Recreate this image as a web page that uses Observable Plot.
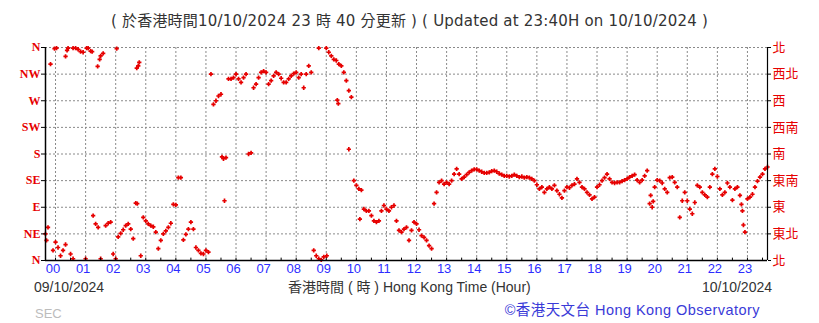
<!DOCTYPE html>
<html><head><meta charset="utf-8">
<script src="https://cdn.jsdelivr.net/npm/d3@7"></script>
<script src="https://cdn.jsdelivr.net/npm/@observablehq/plot@0.6"></script>
<style>
body{margin:0;background:#fff;}
#wrap{position:relative;width:819px;height:323px;overflow:hidden;font-family:"Liberation Sans",Arial,sans-serif;}
.t{position:absolute;white-space:nowrap;line-height:1;}
</style></head><body><div id="wrap"></div>
<script>
// minutes from 00:00 of 10/10/2024; first reading at 23:40 of 09/10/2024
const startMin = -20;
const stepMin = 5;
// wind direction (degrees) every 5 minutes
const dirDeg = [
  45,56,332,17,                                   // 23:40-23:55
  31,22,8,17,27,359,11,3,359,357,353,352,         // 00
  3,359,354,76,62,56,346,350,59,63,65,11,         // 01
  3,40,46,52,59,62,53,37,97,329,8,73,             // 02
  67,62,59,57,48,20,34,45,50,56,63,95,            // 03
  94,140,140,35,44,53,65,53,22,17,12,11,          // 04
  17,14,315,264,270,278,281,172,174,307,307,309,  // 05
  315,307,301,309,315,180,182,292,298,309,318,320,// 06
  318,298,304,312,318,315,308,301,301,307,312,316,// 07
  318,309,315,292,315,329,318,17,8,3,1,6,         // 08
  359,352,346,340,338,332,329,318,304,287,276,135,// 09
  127,121,119,87,84,84,76,67,65,67,84,93,         // 10
  87,84,90,93,67,51,48,53,56,34,51,65,            // 11
  62,52,42,39,34,25,20,96,115,132,135,129,        // 12
  132,129,135,146,155,146,138,141,145,149,152,154,// 13
  154,152,150,148,148,149,151,152,150,147,145,143,// 14
  143,142,143,145,143,141,142,140,141,140,138,135,// 15
  128,121,124,115,121,124,121,127,118,112,106,118,// 16
  124,123,127,129,138,132,124,121,115,111,104,107,// 17
  124,128,135,140,146,138,132,131,132,132,134,136,// 18
  138,141,143,145,136,132,136,143,152,96,90,124,  // 19
  136,135,131,121,115,140,141,132,124,73,101,115, // 20
  101,87,79,98,127,124,115,111,107,124,146,155,   // 21
  142,121,111,115,131,124,102,121,124,110,84,48,  // 22
  104,107,112,124,134,141,146,155,158             // 23:00-23:40
];
// additional scattered readings (minutes, degrees)
const extraMin = [-18,-2,2,20,23,35,62,73,84,88,90,122,162,163,167,332,337,525,541,562,564,585,607,1187,1192,1368,1372];
const extraDeg = [34,358,359,345,355,359,359,353,328,340,3,358,325,96,335,175,101,359,8,271,265,188,70,110,100,95,60];

const hourTicks = d3.range(0, 24);
const halfHourTicks = d3.range(-0.5, 23.6, 0.5).filter(h => h > -1/3);
const dirTicks = [0, 45, 90, 135, 180, 225, 270, 315, 360];
const dirLabelsEn = ["N", "NE", "E", "SE", "S", "SW", "W", "NW", "N"];
const dirLabelsZh = ["北", "東北", "東", "東南", "南", "西南", "西", "西北", "北"];

const readings = dirDeg.map((d, i) => ({h: (startMin + i * stepMin) / 60, d}))
  .concat(extraMin.map((m, i) => ({h: m / 60, d: extraDeg[i]})));

const red = "#e60000";
const xMin = startMin / 60, xMax = (startMin + (dirDeg.length - 1) * stepMin) / 60;

const chart = Plot.plot({
  width: 819, height: 323,
  marginLeft: 45, marginRight: 52, marginTop: 47, marginBottom: 63,
  style: {background: "transparent", overflow: "visible"},
  x: {domain: [xMin, xMax]},
  y: {domain: [0, 360]},
  marks: [
    Plot.ruleX(hourTicks, {stroke: "#8a8a8a", strokeDasharray: "2,2", strokeWidth: 1}),
    Plot.ruleY(dirTicks.slice(1), {stroke: "#8a8a8a", strokeDasharray: "2,2", strokeWidth: 1}),
    Plot.dot(readings, {x: "h", y: "d", symbol: "plus", r: 1.5, stroke: red, strokeWidth: 1.7}),
    Plot.ruleX(halfHourTicks, {x: d => d, y1: 0, y2: 4, stroke: "#000"}),
    Plot.ruleX([xMin], {stroke: "#000", strokeWidth: 1.5}),
    Plot.ruleX([xMax], {stroke: "#000", strokeWidth: 1.2}),
    Plot.ruleY([0], {stroke: "#000", strokeWidth: 1.5}),
    Plot.axisX(hourTicks, {anchor: "bottom", tickSize: 0, tickPadding: 3, dx: -2.5,
      tickFormat: d => String(d).padStart(2, "0"), fill: "#2d2dff", fontSize: 13,
      fontFamily: "Liberation Sans, Arial, sans-serif", label: null}),
    Plot.axisY(dirTicks, {anchor: "left", tickSize: 4, tickPadding: 1, stroke: "#000",
      fill: red, fontSize: 12, fontWeight: "bold", fontFamily: "Liberation Serif, serif",
      tickFormat: d => dirLabelsEn[dirTicks.indexOf(d)], label: null}),
    Plot.axisY(dirTicks, {anchor: "right", tickSize: 3, tickPadding: 2, stroke: "#000",
      fill: red, fontSize: 13, fontFamily: "Noto Sans CJK TC, sans-serif",
      tickFormat: d => dirLabelsZh[dirTicks.indexOf(d)], label: null})
  ]
});

const wrap = document.getElementById("wrap");
wrap.appendChild(chart);
chart.style.position = "absolute";
chart.style.left = "0px";
chart.style.top = "0px";

function addText(txt, css) {
  const el = document.createElement("div");
  el.className = "t";
  el.textContent = txt;
  Object.assign(el.style, css);
  wrap.appendChild(el);
  return el;
}
const mixFont = "'Liberation Sans', 'Noto Sans CJK TC', sans-serif";
addText("( 於香港時間10/10/2024 23 時 40 分更新 ) ( Updated at 23:40H on 10/10/2024 )",
  {left: "0px", width: "819px", textAlign: "center", top: "14px", fontSize: "15px", letterSpacing: "0.2px",
   color: "#333", fontFamily: "'DejaVu Sans', 'Noto Sans CJK TC', sans-serif"});
addText("09/10/2024", {left: "34px", top: "280px", fontSize: "14px", color: "#333"});
addText("香港時間 ( 時 ) Hong Kong Time (Hour)", {left: "288px", top: "280px", fontSize: "14px", color: "#333", fontFamily: mixFont});
addText("10/10/2024", {right: "47px", top: "280px", fontSize: "14px", color: "#333"});
addText("©香港天文台 Hong Kong Observatory", {right: "59px", top: "303px", fontSize: "14.5px", letterSpacing: "0.45px",
   color: "#3a3ad8", fontFamily: mixFont});
addText("SEC", {left: "35px", top: "307px", fontSize: "13px", color: "#bcbcbc"});
</script>
</body></html>
